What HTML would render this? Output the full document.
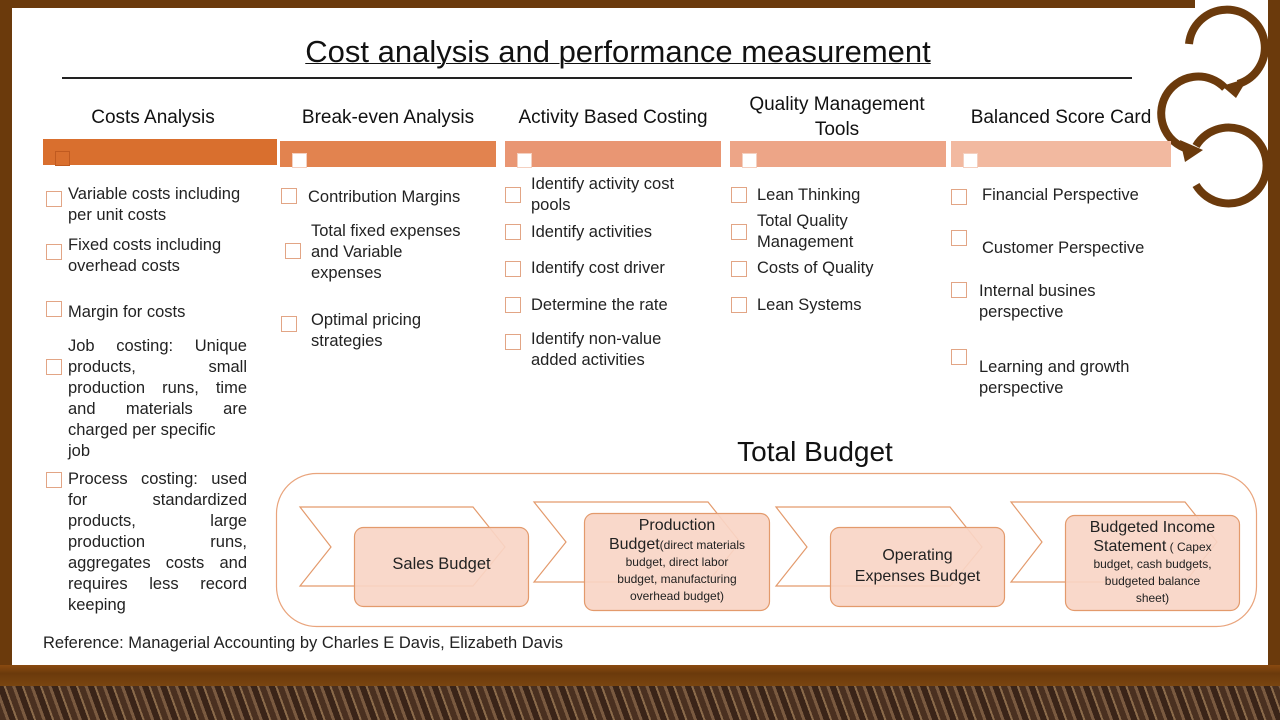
<!DOCTYPE html>
<html><head><meta charset="utf-8"><style>
body{margin:0;width:1280px;height:720px;overflow:hidden;background:#fff;font-family:"Liberation Sans",sans-serif;position:relative}
div{position:absolute}
.t{font-size:16.5px;color:#222;line-height:21px}
.j{text-align:justify;text-align-last:left}
.cb{width:14px;height:14px;border:1px solid #e2a585;background:#fff}
.h{font-size:19px;color:#111;text-align:center;line-height:25px}
.bar{height:26px}
.sq{width:13px;height:13px;border:1px solid #f4d0c0;background:#fff;top:12px;left:12px}
</style></head><body>
<div style="left:0;top:0;width:12px;height:665px;background:#6b3a0c"></div>
<div style="left:0;top:0;width:1195px;height:8px;background:#6b3a0c"></div>
<div style="left:1268px;top:0;width:12px;height:665px;background:#6b3a0c"></div>
<div style="left:0;top:665px;width:1280px;height:21px;background:linear-gradient(#8a4a10,#6b3a0c 40%,#7a4510)"></div>
<div style="left:0;top:686px;width:1280px;height:34px;background:repeating-linear-gradient(70deg,#4a3020 0 6px,#7a5a40 6px 9px,#3a2418 9px 15px,#8a6a4a 15px 17px)"></div>

<div style="left:200px;top:34px;width:836px;text-align:center;font-size:31px;color:#111;text-decoration:underline;text-decoration-thickness:1px">Cost analysis and performance measurement</div>
<div style="left:62px;top:77px;width:1070px;height:2px;background:#222"></div>

<svg style="position:absolute;left:0;top:0" width="1280" height="220">
<g fill="none" stroke="#6b3a0c" stroke-width="8">
<path d="M1189 44 A38 38 0 1 1 1238 84"/>
<path d="M1225 88 A37 37 0 1 0 1192 150"/>
<path d="M1196 146 A38 38 0 1 1 1196 185"/>
</g>
<polygon points="1222,86 1248,78 1236,98" fill="#6b3a0c"/>
<polygon points="1180,140 1203,150 1185,162" fill="#6b3a0c"/>
</svg>

<div class="h" style="left:43px;top:105px;width:220px">Costs Analysis</div>
<div class="h" style="left:280px;top:105px;width:216px">Break-even Analysis</div>
<div class="h" style="left:503px;top:105px;width:220px">Activity Based Costing</div>
<div class="h" style="left:727px;top:92px;width:220px">Quality Management Tools</div>
<div class="h" style="left:951px;top:105px;width:220px">Balanced Score Card</div>

<div class="bar" style="left:43px;top:139px;width:234px;background:#d96f2e"><div class="sq" style="background:#d96f2e;border-color:#c05a20"></div></div>
<div class="bar" style="left:280px;top:141px;width:216px;background:#e2834f"><div class="sq"></div></div>
<div class="bar" style="left:505px;top:141px;width:216px;background:#e99673"><div class="sq"></div></div>
<div class="bar" style="left:730px;top:141px;width:216px;background:#eda587"><div class="sq"></div></div>
<div class="bar" style="left:951px;top:141px;width:220px;background:#f2b9a0"><div class="sq"></div></div>

<!-- column 1 -->
<div class="cb" style="left:46px;top:191px"></div><div class="t" style="left:68px;top:184px;width:180px">Variable costs including per unit costs</div>
<div class="cb" style="left:46px;top:244px"></div><div class="t" style="left:68px;top:235px;width:180px">Fixed costs including overhead costs</div>
<div class="cb" style="left:46px;top:301px"></div><div class="t" style="left:68px;top:302px;width:180px">Margin for costs</div>
<div class="cb" style="left:46px;top:359px"></div><div class="t j" style="left:68px;top:336px;width:179px">Job costing: Unique products, small production runs, time and materials are charged per specific<br>job</div>
<div class="cb" style="left:46px;top:472px"></div><div class="t j" style="left:68px;top:469px;width:179px">Process costing: used for standardized products, large production runs, aggregates costs and requires less record keeping</div>

<!-- column 2 -->
<div class="cb" style="left:281px;top:188px"></div><div class="t" style="left:308px;top:187px;width:185px">Contribution Margins</div>
<div class="cb" style="left:285px;top:243px"></div><div class="t" style="left:311px;top:221px;width:180px">Total fixed expenses<br>and Variable<br>expenses</div>
<div class="cb" style="left:281px;top:316px"></div><div class="t" style="left:311px;top:310px;width:180px">Optimal pricing strategies</div>

<!-- column 3 -->
<div class="cb" style="left:505px;top:187px"></div><div class="t" style="left:531px;top:174px;width:180px">Identify activity cost pools</div>
<div class="cb" style="left:505px;top:224px"></div><div class="t" style="left:531px;top:222px;width:180px">Identify activities</div>
<div class="cb" style="left:505px;top:261px"></div><div class="t" style="left:531px;top:258px;width:180px">Identify cost driver</div>
<div class="cb" style="left:505px;top:297px"></div><div class="t" style="left:531px;top:295px;width:180px">Determine the rate</div>
<div class="cb" style="left:505px;top:334px"></div><div class="t" style="left:531px;top:329px;width:180px">Identify non-value added activities</div>

<!-- column 4 -->
<div class="cb" style="left:731px;top:187px"></div><div class="t" style="left:757px;top:185px;width:180px">Lean Thinking</div>
<div class="cb" style="left:731px;top:224px"></div><div class="t" style="left:757px;top:211px;width:180px">Total Quality Management</div>
<div class="cb" style="left:731px;top:261px"></div><div class="t" style="left:757px;top:258px;width:180px">Costs of Quality</div>
<div class="cb" style="left:731px;top:297px"></div><div class="t" style="left:757px;top:295px;width:180px">Lean Systems</div>

<!-- column 5 -->
<div class="cb" style="left:951px;top:189px"></div><div class="t" style="left:982px;top:185px;width:190px">Financial Perspective</div>
<div class="cb" style="left:951px;top:230px"></div><div class="t" style="left:982px;top:238px;width:190px">Customer Perspective</div>
<div class="cb" style="left:951px;top:282px"></div><div class="t" style="left:979px;top:281px;width:190px">Internal busines perspective</div>
<div class="cb" style="left:951px;top:349px"></div><div class="t" style="left:979px;top:357px;width:190px">Learning and growth perspective</div>

<div style="left:700px;top:436px;width:230px;text-align:center;font-size:28px;color:#111">Total Budget</div>

<svg style="position:absolute;left:0;top:0" width="1280" height="720">
<rect x="276.5" y="473.5" width="980" height="153" rx="40" fill="none" stroke="#e9a47c" stroke-width="1.2"/>
<g fill="none" stroke="#e39a6c" stroke-width="1.2">
<polygon points="300,507 473,507 505,547 473,586 300,586 331,547"/>
<polygon points="534,502 708,502 740,542 708,582 534,582 566,542"/>
<polygon points="776,507 950,507 982,547 950,586 776,586 807,547"/>
<polygon points="1011,502 1185,502 1217,542 1185,582 1011,582 1042,542"/>
</g>
<g fill="#f8d5c6" fill-opacity="0.92" stroke="#e39a6c" stroke-width="1.2">
<rect x="354.5" y="527.5" width="174" height="79" rx="9"/>
<rect x="584.5" y="513.5" width="185" height="97" rx="9"/>
<rect x="830.5" y="527.5" width="174" height="79" rx="9"/>
<rect x="1065.5" y="515.5" width="174" height="95" rx="9"/>
</g>
</svg>
<div style="left:354px;top:555px;width:175px;text-align:center;font-size:16.5px;color:#222">Sales Budget</div>
<div style="left:586px;top:515px;width:182px;text-align:center;font-size:12px;line-height:17px;color:#222"><span style="font-size:16px;line-height:21px">Production</span><br><span style="font-size:16px">Budget</span>(direct materials<br>budget, direct labor<br>budget, manufacturing<br>overhead budget)</div>
<div style="left:830px;top:545px;width:175px;text-align:center;font-size:16px;line-height:21px;color:#222">Operating<br>Expenses Budget</div>
<div style="left:1067px;top:517px;width:171px;text-align:center;font-size:12px;line-height:17px;color:#222"><span style="font-size:16px;line-height:21px">Budgeted Income</span><br><span style="font-size:16px">Statement</span> ( Capex<br>budget, cash budgets,<br>budgeted balance<br>sheet)</div>

<div class="t" style="left:43px;top:633px;width:700px">Reference: Managerial Accounting by Charles E Davis, Elizabeth Davis</div>
</body></html>
